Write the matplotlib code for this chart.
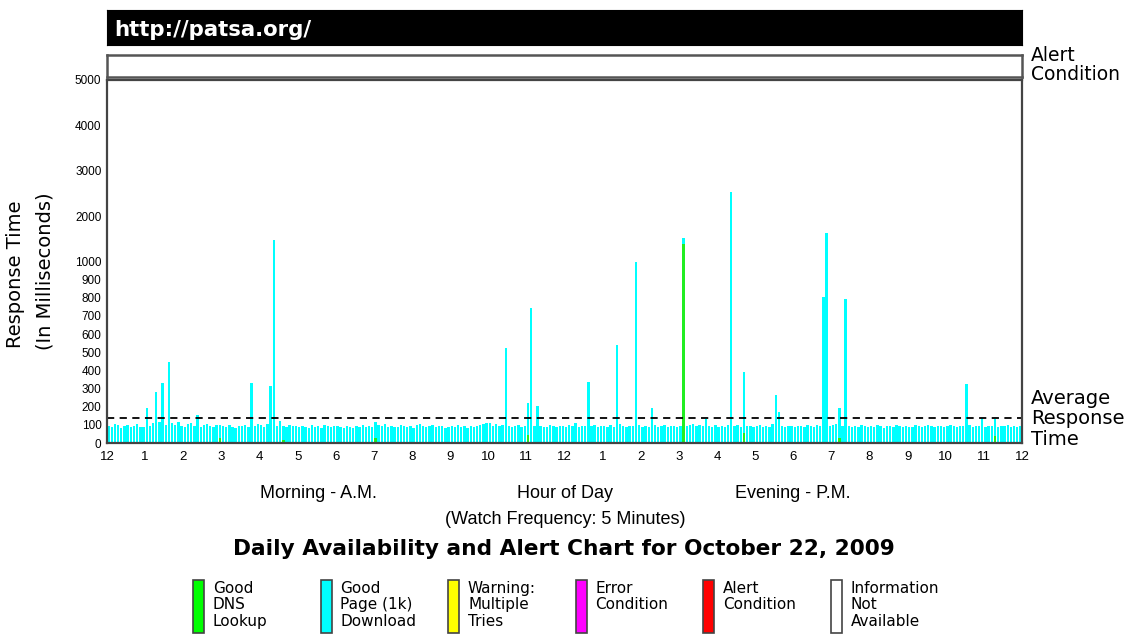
import numpy as np
import matplotlib
matplotlib.use("Agg")
import matplotlib.pyplot as plt
from matplotlib.patches import Rectangle

plt.rcParams["font.family"] = ["Liberation Sans", "DejaVu Sans"]

# response time per 5-minute sample (ms), one row per hour
response_ms = [
    95, 88, 102, 97, 84, 91, 99, 86, 93, 104, 90, 87,
    192, 96, 112, 280, 118, 330, 101, 445, 108, 97, 115, 92,
    89, 103, 110, 94, 154, 86, 99, 105, 92, 88, 97, 101,
    93, 87, 98, 90, 84, 96, 91, 100, 88, 330, 95, 102,
    97, 89, 104, 313, 1484, 92, 121, 95, 88, 99, 93, 91,
    86, 94, 90, 83, 97, 88, 92, 85, 99, 91, 87, 94,
    93, 88, 84, 96, 90, 82, 95, 89, 98, 86, 91, 87,
    118, 97, 92, 102, 88, 95, 90, 86, 99, 93, 87, 91,
    85, 98, 104, 92, 88, 95, 100, 87, 93, 96, 84, 90,
    92, 86, 97, 89, 95, 83, 91, 88, 94, 99, 102, 108,
    110, 96, 104, 92, 98, 522, 91, 87, 95, 100, 88, 93,
    220, 742, 96, 203, 94, 90, 88, 97, 92, 86, 95, 91,
    89, 99, 93, 112, 87, 96, 91, 335, 94, 101, 88, 95,
    92, 86, 98, 90, 538, 104, 93, 87, 96, 91, 995, 99,
    88, 94, 90, 192, 97, 86, 93, 99, 89, 95, 92, 87,
    96, 1527, 91, 98, 104, 93, 100, 95, 130, 92, 88, 97,
    90, 94, 86, 99, 2538, 92, 101, 88, 390, 95, 91, 87,
    93, 98, 89, 95, 90, 102, 264, 170, 94, 88, 96, 91,
    87, 95, 92, 89, 98, 93, 86, 100, 91, 802, 1637, 94,
    97, 102, 192, 96, 791, 93, 88, 95, 90, 99, 92, 86,
    94, 89, 97, 91, 85, 96, 93, 88, 99, 92, 87, 95,
    90, 86, 98, 93, 89, 95, 100, 91, 87, 96, 92, 88,
    94, 99, 91, 87, 96, 92, 324, 98, 90, 95, 93, 137,
    89, 96, 92, 132, 88, 94, 91, 97, 86, 93, 90, 95,
]
# DNS lookup part (ms) where it is visible: sample index -> ms
dns_ms = {35: 27, 55: 18, 84: 25, 132: 44, 181: 1396, 200: 55, 230: 27, 279: 38}
average_ms = 137

hour_labels = ["12", "1", "2", "3", "4", "5", "6", "7", "8", "9", "10", "11",
               "12", "1", "2", "3", "4", "5", "6", "7", "8", "9", "10", "11", "12"]
y_ticks = [0, 100, 200, 300, 400, 500, 600, 700, 800, 900, 1000, 2000, 3000, 4000, 5000]

legend_colors = ["#00ff00", "#00ffff", "#ffff00", "#ff00ff", "#ff0000", "#ffffff"]
legend_labels = ["Good\nDNS\nLookup", "Good\nPage (1k)\nDownload", "Warning:\nMultiple\nTries",
                 "Error\nCondition", "Alert\nCondition", "Information\nNot\nAvailable"]

W, H = 1141, 637
fig = plt.figure(figsize=(W / 100, H / 100), dpi=100)
WIDE = ["DejaVu Sans"]


def box(x0, y0, x1, y1):
    return [x0 / W, 1 - y1 / H, (x1 - x0) / W, (y1 - y0) / H]


# scale: linear to 1000, then compressed 4x above
def fwd(v):
    v = np.asarray(v, dtype=float)
    return np.where(v <= 1000, v, 1000 + (v - 1000) / 4.0)


def inv(t):
    t = np.asarray(t, dtype=float)
    return np.where(t <= 1000, t, 1000 + (t - 1000) * 4.0)


# header
hdr = fig.add_axes(box(107, 10, 1022, 45))
hdr.set_facecolor("black")
hdr.set_xticks([])
hdr.set_yticks([])
hdr.text(0.008, 0.42, "http://patsa.org/", color="white", fontsize=15.3, fontweight="bold",
         family=WIDE, va="center", ha="left", transform=hdr.transAxes)

# alert condition strip
al = fig.add_axes(box(107, 55, 1022, 77))
al.set_xticks([])
al.set_yticks([])
for s in al.spines.values():
    s.set_color("#555555")
    s.set_linewidth(1.8)

# main chart
ax = fig.add_axes(box(107, 80, 1022, 443))
n = len(response_ms)
x = np.arange(n) / 12.0 + 1 / 24.0
total = np.array(response_ms, dtype=float)
dns = np.zeros(n)
for i, v in dns_ms.items():
    dns[i] = v
ax.set_yscale("function", functions=(fwd, inv))
ax.bar(x, total, width=0.75 / 12, color="#00ffff", linewidth=0)
ax.bar(x, dns, width=0.75 / 12, color="#22ee22", linewidth=0)
ax.axhline(average_ms, color="black", linestyle=(0, (4, 3)), linewidth=1.3)
ax.set_xlim(0, 24)
ax.set_ylim(0, 5000)
ax.set_xticks(range(25))
ax.set_xticklabels(hour_labels, fontsize=9.5)
ax.set_yticks(y_ticks)
ax.set_yticklabels([str(v) for v in y_ticks], fontsize=8.5)
ax.tick_params(length=0, pad=4)
ax.tick_params(axis="x", pad=6)
for s in ax.spines.values():
    s.set_color("#444444")
    s.set_linewidth(1.6)

# overlay for texts and legend in pixel coordinates
ov = fig.add_axes([0, 0, 1, 1], facecolor="none")
ov.set_xlim(0, W)
ov.set_ylim(H, 0)
ov.axis("off")

ov.text(16, 274, "Response Time", fontsize=14, family=WIDE, rotation=90, ha="center", va="center")
ov.text(45, 271, "(In Milliseconds)", fontsize=14, family=WIDE, rotation=90, ha="center", va="center")
ov.text(1031, 65, "Alert\nCondition", fontsize=13.5, family=WIDE, va="center", ha="left",
        linespacing=0.95)
ov.text(1031, 419, "Average\nResponse\nTime", fontsize=14, family=WIDE, va="center", ha="left",
        linespacing=1.08)
ov.text(318, 493, "Morning - A.M.", fontsize=13, ha="center", va="center")
ov.text(565, 493, "Hour of Day", fontsize=13, ha="center", va="center")
ov.text(793, 493, "Evening - P.M.", fontsize=13, ha="center", va="center")
ov.text(565, 520, "(Watch Frequency: 5 Minutes)", fontsize=13, ha="center", va="center")
ov.text(564, 549, "Daily Availability and Alert Chart for October 22, 2009",
        fontsize=15.6, fontweight="bold", family=WIDE, ha="center", va="center")

for k, (c, lab) in enumerate(zip(legend_colors, legend_labels)):
    x0 = 193 + k * 127.5
    ov.add_patch(Rectangle((x0, 580), 11, 53, facecolor=c, edgecolor="#444444", linewidth=1.2))
    ov.text(x0 + 20, 581, lab, fontsize=11, family=WIDE, ha="left", va="top", linespacing=1.12)

fig.savefig("out.png", dpi=100)
